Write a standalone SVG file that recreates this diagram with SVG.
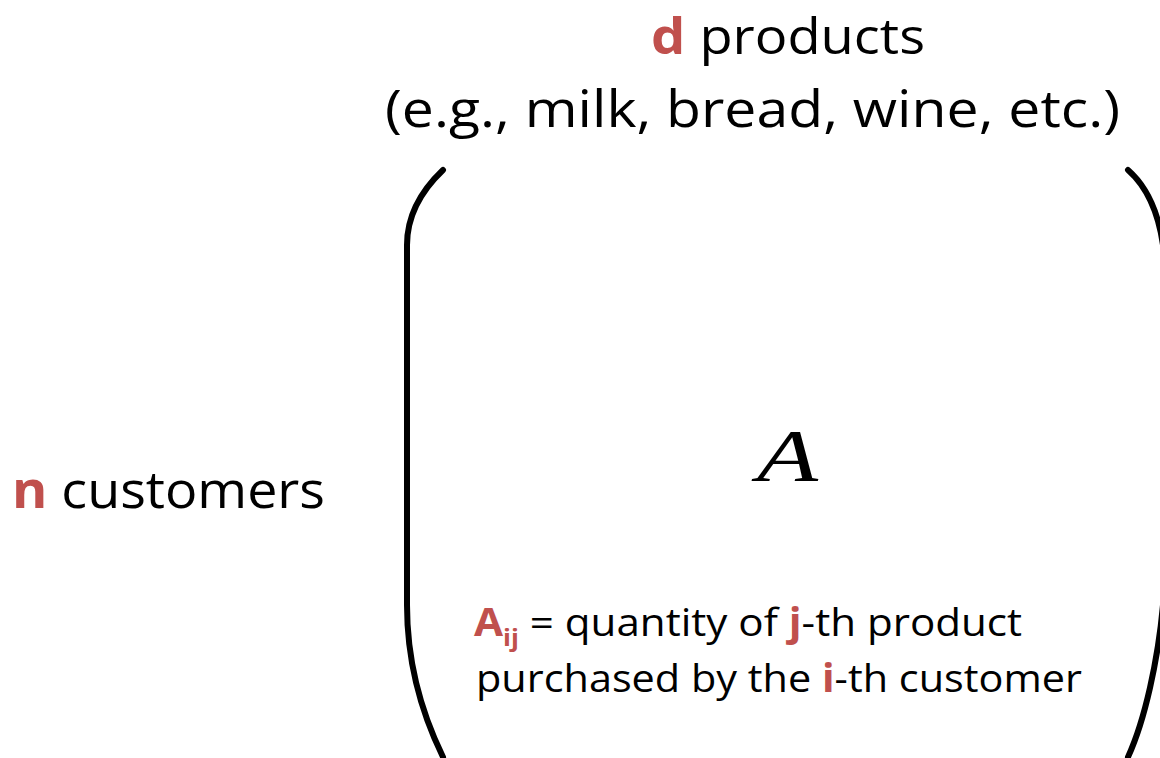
<svg xmlns="http://www.w3.org/2000/svg" width="1160" height="758" viewBox="0 0 1160 758">
<style>
.t{font-family:"Open Sans","Liberation Sans",sans-serif;fill:#000}
.r{fill:#C0504D;font-weight:bold}
.br{fill:none;stroke:#000;stroke-width:6;stroke-linecap:round}
</style>
<rect width="1160" height="758" fill="#fff"/>
<g id="header">
<text class="t" x="651" y="54" font-size="50" textLength="274" lengthAdjust="spacingAndGlyphs"><tspan class="r">d</tspan> products</text>
<text class="t" x="385" y="127" font-size="52" textLength="735" lengthAdjust="spacingAndGlyphs">(e.g., milk, bread, wine, etc.)</text>
</g>
<g id="rows">
<text class="t" x="12" y="508" font-size="52" textLength="313" lengthAdjust="spacingAndGlyphs"><tspan class="r">n</tspan> customers</text>
</g>
<g id="matrix">
<path class="br" d="M443,170 C422,190 407,215 407,245 L407,605 C407,660 420,710 443,757"/>
<path class="br" d="M1128,170 C1145,185 1158,210 1163,245 L1163,605 C1158,660 1145,720 1128,757"/>
<text x="757" y="481" font-family="Liberation Serif,serif" font-style="italic" font-size="74" fill="#000" textLength="61" lengthAdjust="spacingAndGlyphs">A</text>
<text class="t" x="474" y="636" font-size="39" textLength="548" lengthAdjust="spacingAndGlyphs"><tspan class="r">A</tspan><tspan class="r" font-size="24" dy="10">ij</tspan><tspan dy="-10"> = quantity of </tspan><tspan class="r">j</tspan>-th product</text>
<text class="t" x="476" y="692" font-size="39" textLength="606" lengthAdjust="spacingAndGlyphs">purchased by the <tspan class="r">i</tspan>-th customer</text>
</g>
</svg>
